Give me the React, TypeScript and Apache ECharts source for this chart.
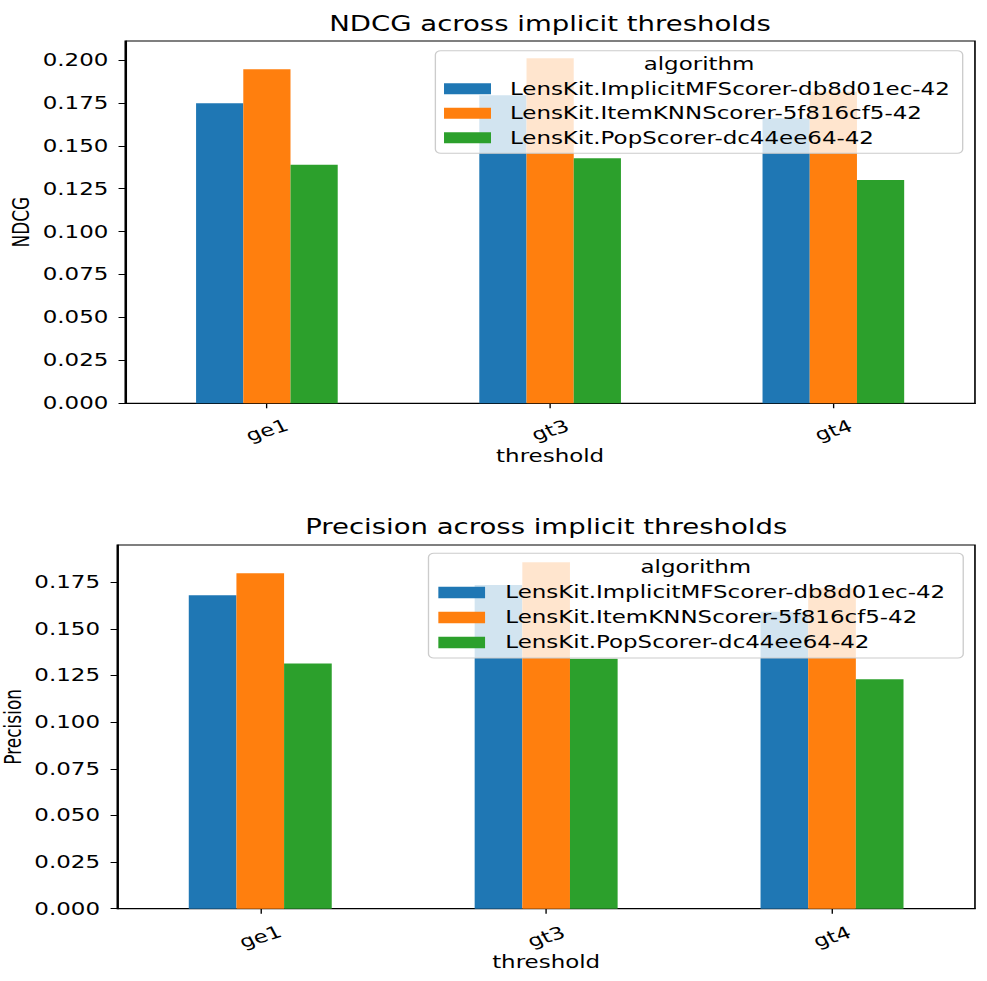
import React, { useEffect, useRef } from 'react';
import * as echarts from 'echarts';

// ---------- data ----------
const thresholds = ['ge1', 'gt3', 'gt4'];
const algorithms = [
  'LensKit.ImplicitMFScorer-db8d01ec-42',
  'LensKit.ItemKNNScorer-5f816cf5-42',
  'LensKit.PopScorer-dc44ee64-42',
];
const colors = ['#1f77b4', '#ff7f0e', '#2ca02c'];

const ndcgImplicitMF = [0.1748, 0.1794, 0.166];
const ndcgItemKNN = [0.1946, 0.201, 0.1815];
const ndcgPop = [0.139, 0.1427, 0.1301];

const precisionImplicitMF = [0.168, 0.1736, 0.1592];
const precisionItemKNN = [0.1798, 0.1857, 0.1718];
const precisionPop = [0.1314, 0.134, 0.123];

const ndcgTicks = [0, 0.025, 0.05, 0.075, 0.1, 0.125, 0.15, 0.175, 0.2];
const precisionTicks = [0, 0.025, 0.05, 0.075, 0.1, 0.125, 0.15, 0.175];

// ---------- layout ----------
const SX = 1.35; // the reference picture is stretched horizontally
const W = 731;
const H = 981;
const FONT = 'DejaVu Sans';
const FS = 17;

const ndcgSeries = [ndcgImplicitMF, ndcgItemKNN, ndcgPop];
const precisionSeries = [precisionImplicitMF, precisionItemKNN, precisionPop];

const maxOf = (arrs: number[][]) => Math.max(...arrs.map((a) => Math.max(...a)));

function xAxis(gridIndex: number, labelMargin: number, nameGap: number) {
  return {
    type: 'category',
    gridIndex,
    data: thresholds,
    name: 'threshold',
    nameLocation: 'middle',
    nameGap,
    nameMoveOverlap: false,
    nameTextStyle: { fontSize: FS, fontFamily: FONT, color: '#000', verticalAlign: 'middle' },
    axisLine: { show: true, lineStyle: { color: '#000', width: 1.2 } },
    axisTick: { show: true, alignWithLabel: true, length: 5, lineStyle: { color: '#000', width: 1 } },
    axisLabel: {
      rotate: 22,
      align: 'center',
      verticalAlign: 'middle',
      margin: labelMargin,
      fontSize: FS,
      fontFamily: FONT,
      color: '#000',
    },
    splitLine: { show: false },
  };
}

function yAxis(gridIndex: number, name: string, max: number, ticks: number[], nameGap: number, margin: number) {
  return {
    type: 'value',
    gridIndex,
    min: 0,
    max,
    name,
    nameLocation: 'middle',
    nameGap,
    nameMoveOverlap: false,
    nameTextStyle: { fontSize: FS, fontFamily: FONT, color: '#000', verticalAlign: 'middle' },
    axisLine: { show: true, lineStyle: { color: '#000', width: 1.2 } },
    axisTick: { show: true, length: 5, customValues: ticks, lineStyle: { color: '#000', width: 1 } },
    axisLabel: {
      customValues: ticks,
      formatter: (v: number) => v.toFixed(3),
      margin,
      fontSize: FS,
      fontFamily: FONT,
      color: '#000',
    },
    splitLine: { show: false },
  };
}

function legend(left: number, top: number, iw: number, ih: number, gap: number, textPad: number) {
  return {
    orient: 'vertical',
    left,
    top,
    padding: 0,
    itemWidth: iw,
    itemHeight: ih,
    itemGap: gap,
    icon: 'rect',
    selectedMode: false,
    data: algorithms,
    textStyle: { fontSize: FS, fontFamily: FONT, color: '#000', padding: [0, 0, 0, textPad] },
  };
}

function legendBox(x: number, y: number, w: number, h: number, titleY: number) {
  return [
    {
      type: 'rect',
      z: 3,
      shape: { x, y, width: w, height: h, r: 4 },
      style: { fill: 'rgba(255,255,255,0.8)', stroke: '#cccccc', lineWidth: 1 },
    },
    {
      type: 'text',
      z: 5,
      x: x + w / 2,
      y: titleY,
      style: {
        text: 'algorithm',
        fontSize: FS,
        fontFamily: FONT,
        fill: '#000',
        align: 'center',
        verticalAlign: 'middle',
        textAlign: 'center',
        textVerticalAlign: 'middle',
      },
    },
  ];
}

export default function App() {
  const ref = useRef<HTMLDivElement>(null);

  useEffect(() => {
    if (!ref.current) return;
    const chart = echarts.init(ref.current, undefined, { renderer: 'svg' });
    const ndcgMax = maxOf(ndcgSeries) * 1.05;
    const precisionMax = maxOf(precisionSeries) * 1.05;

    const series: any[] = [];
    ndcgSeries.forEach((d, i) =>
      series.push({
        type: 'bar',
        name: algorithms[i],
        xAxisIndex: 0,
        yAxisIndex: 0,
        data: d,
        barWidth: '16.67%',
        barGap: '0%',
        itemStyle: { color: colors[i] },
      })
    );
    precisionSeries.forEach((d, i) =>
      series.push({
        type: 'bar',
        name: algorithms[i],
        xAxisIndex: 1,
        yAxisIndex: 1,
        data: d,
        barWidth: '16.67%',
        barGap: '0%',
        itemStyle: { color: colors[i] },
      })
    );

    chart.setOption({
      animation: false,
      backgroundColor: '#fff',
      title: [
        {
          text: 'NDCG across implicit thresholds',
          left: 407.4,
          top: 14,
          textAlign: 'center',
          padding: 0,
          textStyle: { fontSize: 20.4, fontWeight: 'normal', fontFamily: FONT, color: '#000' },
        },
        {
          text: 'Precision across implicit thresholds',
          left: 404.6,
          top: 517.5,
          textAlign: 'center',
          padding: 0,
          textStyle: { fontSize: 20.4, fontWeight: 'normal', fontFamily: FONT, color: '#000' },
        },
      ],
      grid: [
        {
          left: 92.8, top: 41, width: 629.4, height: 362.3,
          containLabel: false, outerBoundsMode: 'none',
          show: true, borderColor: '#000', borderWidth: 1.2, backgroundColor: 'transparent',
        },
        {
          left: 86.9, top: 545, width: 635.3, height: 363.7,
          containLabel: false, outerBoundsMode: 'none',
          show: true, borderColor: '#000', borderWidth: 1.2, backgroundColor: 'transparent',
        },
      ],
      xAxis: [xAxis(0, 27, 52.5), xAxis(1, 28, 53)],
      yAxis: [
        yAxis(0, 'NDCG', ndcgMax, ndcgTicks, 77, 12.5),
        yAxis(1, 'Precision', precisionMax, precisionTicks, 77, 12.8),
      ],
      legend: [legend(328.9, 80.3, 34.8, 11, 7.5, 9), legend(324.7, 584, 34.6, 11.5, 8, 10)],
      graphic: [...legendBox(322.5, 50.7, 390.6, 102.6, 64.2), ...legendBox(317.4, 553.3, 396.1, 104.7, 567.5)],
      series,
    });
    return () => chart.dispose();
  }, []);

  return (
    <div
      ref={ref}
      style={{
        position: 'absolute',
        left: 0,
        top: 0,
        width: W,
        height: H,
        transform: `scaleX(${SX})`,
        transformOrigin: '0 0',
      }}
    />
  );
}
